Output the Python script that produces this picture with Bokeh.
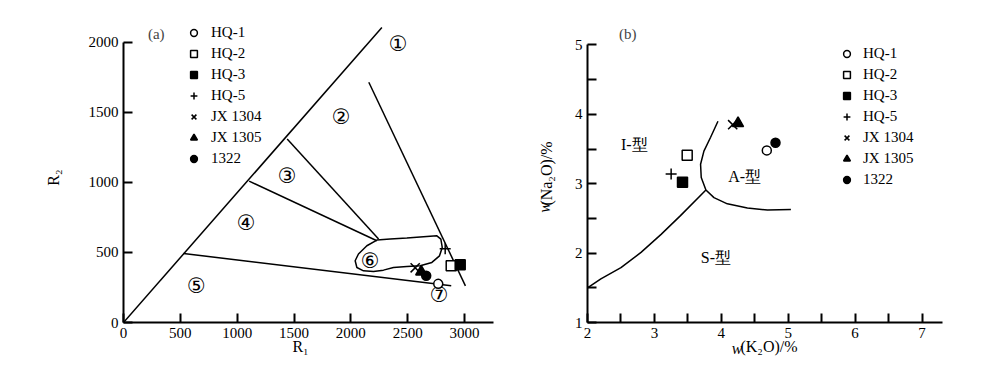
from bokeh.plotting import figure
from bokeh.layouts import row
from bokeh.models import Range1d, FixedTicker, Label, Legend, LegendItem, LinearAxis
from bokeh.core.properties import value
from bokeh.embed import file_html
from bokeh.resources import INLINE

# ---------------- data ----------------
samples = ["HQ-1", "HQ-2", "HQ-3", "HQ-5", "JX 1304", "JX 1305", "1322"]
r1 = [2769, 2883, 2962, 2830, 2566, 2619, 2663]
r2 = [276, 405, 412, 526, 391, 362, 334]
k2o = [4.68, 3.49, 3.42, 3.25, 4.17, 4.25, 4.81]
na2o = [3.48, 3.41, 3.02, 3.14, 3.85, 3.87, 3.59]

markers = ["circle", "square", "square", "cross", "x", "triangle", "circle"]
fills = ["white", "white", "black", "black", "black", "black", "black"]
sizes = [9, 10, 10, 11, 13, 11, 9]

# R1-R2 diagram boundary lines
bound_a_x = [[0, 2273], [2158, 3008], [1440, 2244], [1105, 2229], [528, 2883]]
bound_a_y = [[0, 2107], [1716, 262], [1310, 596], [1010, 584], [493, 262]]
# closed field (6)
field6_x = [2229, 2346, 2493, 2639, 2757, 2792, 2804, 2780, 2713, 2610, 2493,
            2375, 2287, 2199, 2111, 2053, 2038, 2067, 2141, 2229]
field6_y = [589, 596, 603, 612, 619, 596, 536, 476, 429, 405, 400,
            393, 374, 364, 369, 393, 441, 489, 548, 589]
zone_a = ["①", "②", "③", "④", "⑤", "⑥", "⑦"]
zone_a_x = [2417, 1915, 1440, 1080, 641, 2170, 2777]
zone_a_y = [1988, 1469, 1048, 712, 262, 441, 198]

# K2O-Na2O diagram boundaries
curve_is_x = [2.00, 2.20, 2.50, 2.80, 3.10, 3.39, 3.77]
curve_is_y = [1.50, 1.63, 1.79, 2.01, 2.27, 2.54, 2.91]
curve_ia_x = [3.95, 3.84, 3.74, 3.69, 3.70, 3.77]
curve_ia_y = [3.90, 3.67, 3.47, 3.28, 3.09, 2.91]
curve_as_x = [3.77, 3.89, 4.09, 4.39, 4.69, 5.04]
curve_as_y = [2.91, 2.80, 2.71, 2.65, 2.62, 2.63]
zone_b = ["I-型", "A-型", "S-型"]
zone_b_x = [2.70, 4.35, 3.92]
zone_b_y = [3.57, 3.10, 1.94]

xticks_a = [0, 500, 1000, 1500, 2000, 2500, 3000]
yticks_a = [0, 500, 1000, 1500, 2000]
xticks_b = [2, 3, 4, 5, 6, 7]
xminor_b = [2.5, 3.5, 4.5, 5.5, 6.5]
yticks_b = [1, 2, 3, 4, 5]
yminor_b = [1.5, 2.5, 3.5, 4.5]

SERIF = "Liberation Serif"
NB = "\u00a0"  # no-break space used to nudge centred axis titles


def style_axes(p):
    for ax in (p.xaxis[0], p.yaxis[0]):
        ax.axis_line_width = 2
        ax.axis_line_color = "black"
        ax.major_tick_in = 9
        ax.major_tick_out = 0
        ax.minor_tick_in = 9
        ax.minor_tick_out = 0
        ax.major_tick_line_width = 2
        ax.minor_tick_line_width = 2
        ax.major_tick_line_color = "black"
        ax.minor_tick_line_color = "black"
        ax.major_label_text_font = SERIF
        ax.major_label_text_font_size = "15px"
        ax.major_label_text_color = "black"
        ax.major_label_standoff = 5


def title_axis(p, side, text, standoff, italic=False):
    """An axis that only carries a title."""
    ax = LinearAxis(ticker=FixedTicker(ticks=[], minor_ticks=[]),
                    axis_line_color=None, major_tick_in=0, major_tick_out=0,
                    minor_tick_in=0, minor_tick_out=0, major_label_text_font_size="0px",
                    major_label_standoff=0,
                    axis_label=text, axis_label_standoff=standoff,
                    axis_label_text_font=SERIF, axis_label_text_font_size="16px",
                    axis_label_text_font_style="italic" if italic else "normal",
                    axis_label_text_color="black")
    p.add_layout(ax, side)


def make_legend(p, renderers, loc, standoff):
    items = [LegendItem(label=s, renderers=[r]) for s, r in zip(samples, renderers)]
    leg = Legend(items=items, location=loc, padding=0, margin=0, spacing=4,
                 glyph_height=17, glyph_width=17, label_height=17,
                 label_standoff=standoff, border_line_color=None,
                 background_fill_alpha=0, label_text_font=SERIF,
                 label_text_font_size="15px", label_text_color="black")
    p.add_layout(leg)


# ---------------- panel (a) ----------------
pa = figure(width=500, height=376, x_range=Range1d(0, 3255), y_range=Range1d(0, 2157),
            output_backend="svg", toolbar_location=None,
            min_border_left=123, min_border_right=7, min_border_top=20, min_border_bottom=54)
pa.outline_line_color = None
pa.grid.visible = False
pa.xaxis.ticker = FixedTicker(ticks=xticks_a, minor_ticks=[])
pa.yaxis.ticker = FixedTicker(ticks=yticks_a, minor_ticks=[])
pa.yaxis.bounds = (0, 2000)
style_axes(pa)
title_axis(pa, "below", "R₁" + NB * 4, -3)
title_axis(pa, "left", "R₂" + NB * 3, 24)

pa.multi_line(xs=bound_a_x, ys=bound_a_y, line_color="black", line_width=1.5)
pa.line(x=field6_x, y=field6_y, line_color="black", line_width=1.5)
pa.text(x=zone_a_x, y=zone_a_y, text=zone_a, text_font=value("DejaVu Sans"),
        text_font_size="21px", text_align="center", text_baseline="middle", text_color="black")

rend_a = []
for i in range(len(samples)):
    r = pa.scatter(x=[r1[i]], y=[r2[i]], marker=markers[i], size=sizes[i],
                   fill_color=fills[i], line_color="black", line_width=1.5)
    rend_a.append(r)
make_legend(pa, rend_a, (62, 155), 9)

pa.add_layout(Label(x=288, y=2060, text="(a)", text_font=SERIF, text_font_size="15px",
                    text_align="center", text_baseline="middle"))

# ---------------- panel (b) ----------------
pb = figure(width=500, height=376, x_range=Range1d(2, 7.306), y_range=Range1d(1, 5.352),
            output_backend="svg", toolbar_location=None,
            min_border_left=87, min_border_right=58, min_border_top=20, min_border_bottom=54)
pb.outline_line_color = None
pb.grid.visible = False
pb.xaxis.ticker = FixedTicker(ticks=xticks_b, minor_ticks=xminor_b)
pb.yaxis.ticker = FixedTicker(ticks=yticks_b, minor_ticks=yminor_b)
pb.yaxis.bounds = (1, 5)
style_axes(pb)
title_axis(pb, "below", NB * 2 + "(K₂O)/%", -3)
title_axis(pb, "below", "w" + NB * 14, -18, italic=True)
title_axis(pb, "left", "(Na₂O)/%" + NB, 17)
title_axis(pb, "left", "w" + NB * 18, -18, italic=True)

for cx, cy in ((curve_is_x, curve_is_y), (curve_ia_x, curve_ia_y), (curve_as_x, curve_as_y)):
    pb.line(x=cx, y=cy, line_color="black", line_width=1.5)
pb.text(x=zone_b_x, y=zone_b_y, text=zone_b, text_font=value(SERIF),
        text_font_size="16px", text_align="center", text_baseline="middle", text_color="black")

rend_b = []
for i in range(len(samples)):
    r = pb.scatter(x=[k2o[i]], y=[na2o[i]], marker=markers[i], size=sizes[i],
                   fill_color=fills[i], line_color="black", line_width=1.5)
    rend_b.append(r)
make_legend(pb, rend_b, (251, 134), 8)

pb.add_layout(Label(x=2.60, y=5.16, text="(b)", text_font=SERIF, text_font_size="15px",
                    text_align="center", text_baseline="middle"))

layout = row(pa, pb)
open("out.html", "w").write(file_html(layout, INLINE))
